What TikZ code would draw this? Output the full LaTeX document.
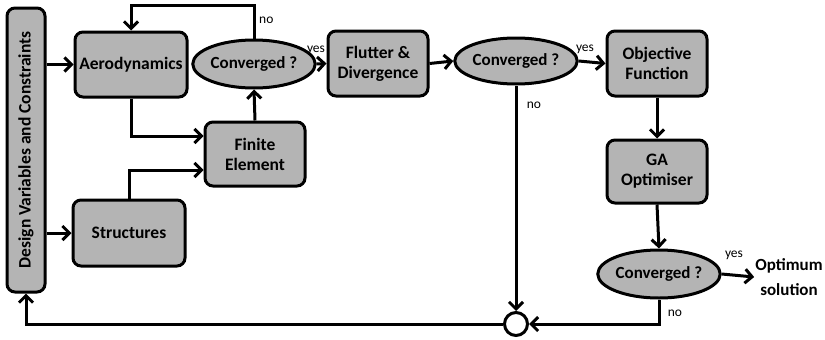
\documentclass[tikz,border=0pt]{standalone}
\usepackage{fontspec}
\setmainfont{Carlito}
\usetikzlibrary{arrows.meta,shapes.geometric}
\definecolor{boxgray}{RGB}{180,180,180}
\tikzset{
  blk/.style={draw=black, line width=3pt, fill=boxgray, rounded corners=8pt, align=center,
    font=\fontsize{17.5}{20}\selectfont\bfseries, inner sep=0pt},
  conv/.style={draw=black, line width=3pt, fill=boxgray, ellipse, inner sep=0pt,
    font=\fontsize{17}{20}\selectfont\bfseries},
  arr/.style={line width=3pt, -{Straight Barb[length=7pt,width=14pt,line width=3pt]}},
  lbl/.style={font=\fontsize{13.5}{15}\selectfont, inner sep=1pt},
}
\begin{document}
\begin{tikzpicture}[x=1pt,y=-1pt]
\useasboundingbox (0,0) rectangle (825,340);
\node[blk, minimum width=284pt, minimum height=38pt, rotate=90] (dv) at (26,150) {Design Variables and Constraints};
\node[blk, minimum width=112pt, minimum height=65pt] (aero) at (131,64.5) {Aerodynamics};
\node[blk, minimum width=112pt, minimum height=66pt] (str) at (129,233) {Structures};
\node[conv, minimum width=108pt, minimum height=48pt] (c1) at (254,64) {Converged ?};
\node[blk, minimum width=100pt, minimum height=64pt] (fe) at (255,154) {Finite\\Element};
\node[blk, minimum width=100pt, minimum height=65pt] (fl) at (378,63.5) {Flutter \&\\Divergence};
\node[conv, minimum width=117pt, minimum height=46pt] (c2) at (516,61) {Converged ?};
\node[blk, minimum width=100pt, minimum height=65pt] (obj) at (657,63.5) {Objective\\Function};
\node[blk, minimum width=100pt, minimum height=63pt] (ga) at (657,171.5) {GA\\Optimiser};
\node[conv, minimum width=116pt, minimum height=48pt] (c3) at (659,274) {Converged ?};
\node[align=center, font=\fontsize{17}{25}\selectfont\bfseries, inner sep=1pt] (opt) at (789,277) {Optimum\\solution};
\node[draw=black, line width=3pt, fill=white, circle, minimum size=23pt, inner sep=0pt] (sum) at (516,324) {};
\coordinate (top) at (0,5);

\draw[arr] (aero.west -| dv.south east) -- (aero.west);
\draw[arr] (str.west -| dv.south east) -- (str.west);
\draw[arr] (aero.south) |- ([yshift=18pt]fe.west);
\draw[arr] (str.north) |- ([yshift=-16pt]fe.west);
\draw[arr] (fe.north) -- (c1.south);
\draw[arr] (c1.north) -- (c1.north |- top) -| (aero.north);
\node[lbl, anchor=south west] at (258,25) {no};
\draw[arr] (c1.east) -- (fl.west);
\node[lbl, anchor=south] at (316,56) {yes};
\draw[arr] (fl.east) -- (c2.west);
\draw[arr] (c2.east) -- (obj.west);
\node[lbl, anchor=south] at (585,55) {yes};
\draw[arr] (c2.south) -- (sum.north);
\node[lbl] at (534,105) {no};
\draw[arr] (obj.south) -- (ga.north);
\draw[arr] (ga.south) -- (c3.north);
\draw[arr] (c3.east) -- (opt.west);
\node[lbl] at (734,255) {yes};
\draw[arr] (c3.south) |- (sum.east);
\node[lbl] at (675,313) {no};
\draw[arr] (sum.west) -| (dv.west);
\end{tikzpicture}
\end{document}
